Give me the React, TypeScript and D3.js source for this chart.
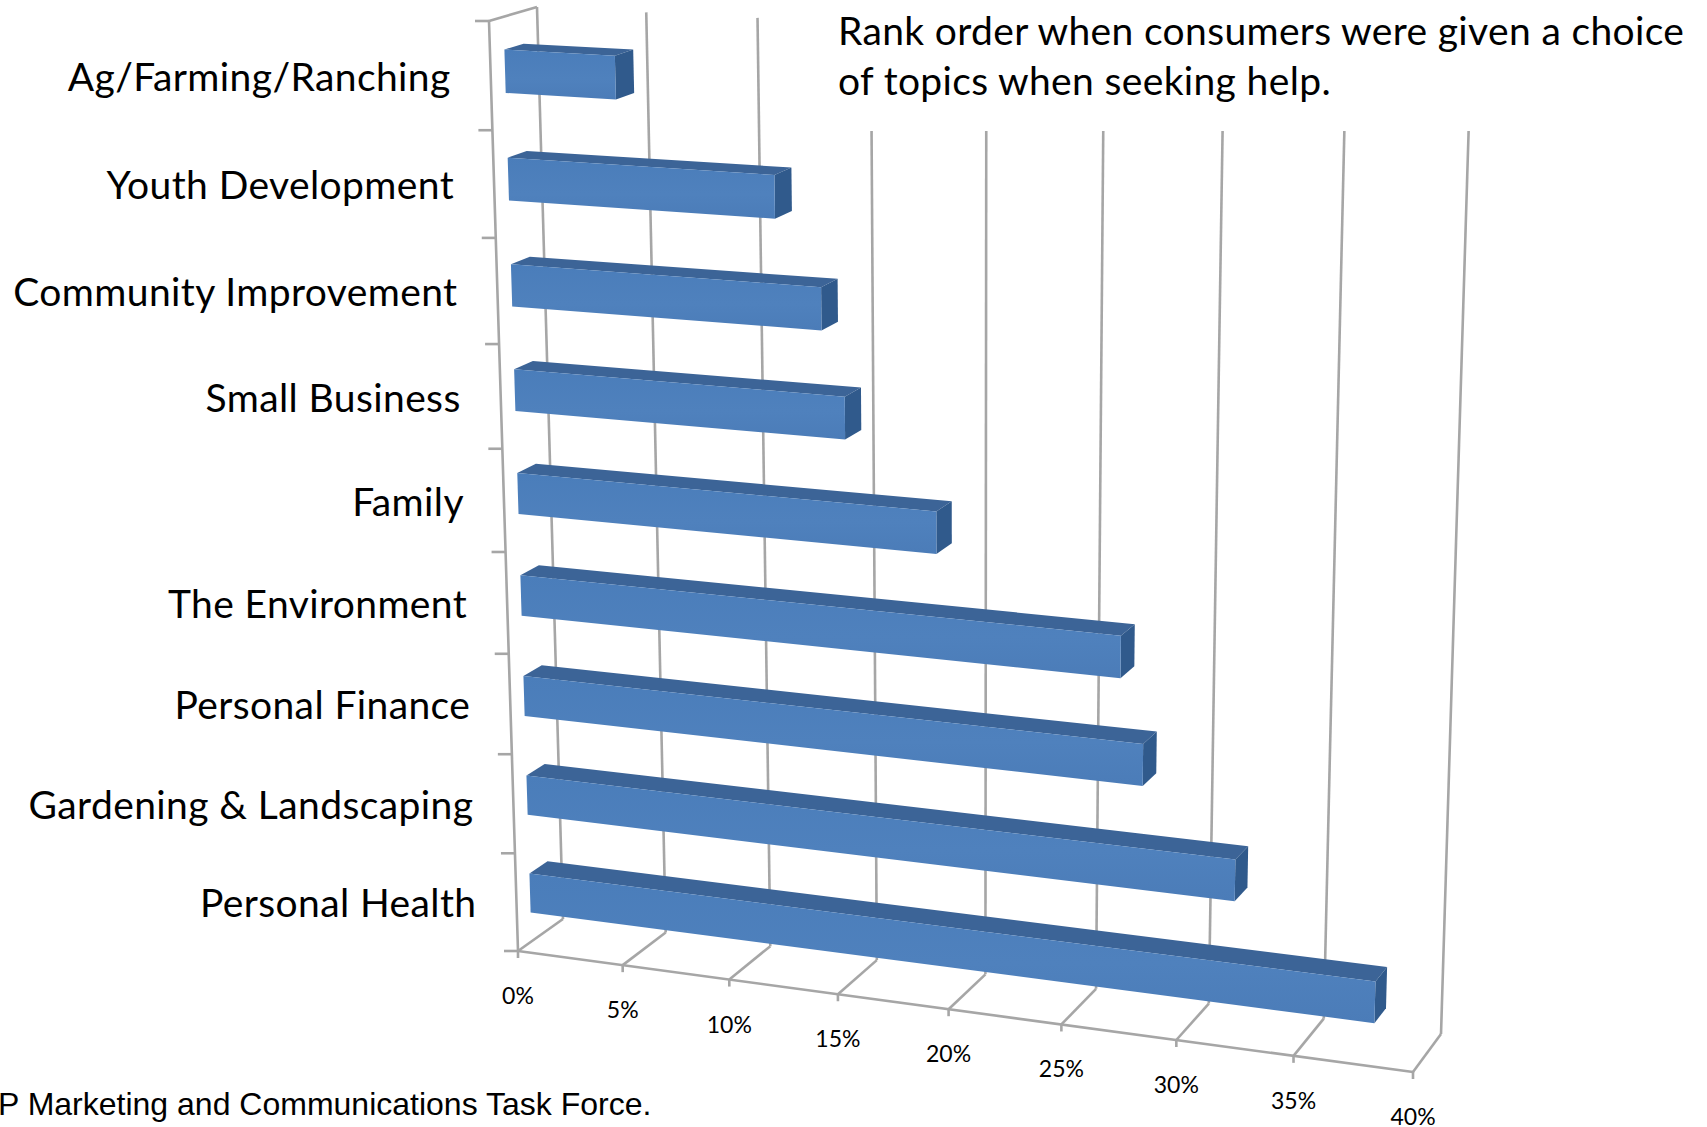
import React from "react";
import * as d3 from "d3";

const categories = [
  "Personal Health",
  "Gardening & Landscaping",
  "Personal Finance",
  "The Environment",
  "Family",
  "Small Business",
  "Community Improvement",
  "Youth Development",
  "Ag/Farming/Ranching",
];
const shares = [38, 32, 28, 27, 19, 15, 14, 12, 5];
const xTicks = [0, 5, 10, 15, 20, 25, 30, 35, 40];
const titleLines = [
  "Rank order when consumers were given a choice",
  "of topics when seeking help.",
];
const footer = "P Marketing and Communications Task Force.";

const W = 1707;
const H = 1127;
type Pt = [number, number];

// Perspective scale: value -> fraction along the horizontal axis
const rawX = (v: number) => (20.75 * v) / (1 - 0.00182 * v);
const px = d3.scaleLinear().domain([0, rawX(40)]).range([0, 1]);
const p = (v: number) => px(rawX(v));
// Perspective scale: category slot -> fraction up the vertical axis
const rawY = (h: number) => (97.06 * h) / (1 - 0.00674 * h);
const py = d3.scaleLinear().domain([0, rawY(9)]).range([0, 1]);
const q = (h: number) => py(rawY(h));

const lerp = (a: Pt, b: Pt, t: number): Pt => [
  a[0] + (b[0] - a[0]) * t,
  a[1] + (b[1] - a[1]) * t,
];
const edge = (a: Pt, b: Pt) => (v: number) => lerp(a, b, p(v));
const floorFront = edge([518, 951], [1413, 1072]);
const floorBack = edge([563, 919], [1441, 1034]);
const topFront = edge([489, 21], [1441, 73]);
const topBack = edge([537, 7], [1471, 53]);

const pt = (v: number, h: number, d: number): Pt =>
  lerp(
    lerp(floorFront(v), floorBack(v), d),
    lerp(topFront(v), topBack(v), d),
    q(h),
  );

const line = d3.line<Pt>();
const closed = (pts: Pt[]) => line(pts) + "Z";

const GRID = "#a6a6a6";
const FRONT = "#4f81bd";
const TOP = "#3c6497";
const SIDE = "#305a8c";
const LABEL_FONT = "Lato, 'Open Sans', sans-serif";

const H0 = 0.3;
const H1 = 0.7;
const D0 = 0.3;
const D1 = 0.7;

export default function App() {
  const slots = d3.range(categories.length + 1);
  return (
    <svg
      width={W}
      height={H}
      viewBox={`0 0 ${W} ${H}`}
      style={{ position: "absolute", left: 0, top: 0, background: "#fff" }}
    >
      <defs>
        <linearGradient id="frontGrad" x1="0" y1="0" x2="0" y2="1">
          <stop offset="0" stopColor="#4a7dba" />
          <stop offset="0.6" stopColor={FRONT} />
          <stop offset="1" stopColor="#4b7cb8" />
        </linearGradient>
      </defs>
      <g fill="none" stroke={GRID} strokeWidth={2.6}>
        {xTicks.map((v) => (
          <path key={"w" + v} d={line([floorBack(v), topBack(v)])!} />
        ))}
      </g>
      {/* white text box hiding the upper part of the wall */}
      <rect x={835} y={0} width={W - 835} height={131} fill="#fff" />
      <g fill="none" stroke={GRID} strokeWidth={2.6}>
        {xTicks.map((v) => (
          <path key={"f" + v} d={line([floorFront(v), floorBack(v)])!} />
        ))}
        <path d={line([floorFront(0), floorFront(40)])!} />
        <path d={line([topFront(0), topBack(0)])!} />
        <path d={line([floorFront(0), topFront(0)])!} />
        {xTicks.map((v) => {
          const a = floorFront(v);
          return <path key={"t" + v} d={line([a, [a[0], a[1] + 7]])!} />;
        })}
        {slots.map((h) => {
          const a = pt(0, h, 0);
          return <path key={"c" + h} d={line([[a[0] - 14, a[1]], a])!} />;
        })}
      </g>
      {shares.map((v, i) => {
        const h0 = i + H0;
        const h1 = i + H1;
        return (
          <g key={categories[i]}>
            <path
              d={closed([pt(0, h1, D0), pt(0, h1, D1), pt(v, h1, D1), pt(v, h1, D0)])}
              fill={TOP}
            />
            <path
              d={closed([pt(v, h0, D0), pt(v, h1, D0), pt(v, h1, D1), pt(v, h0, D1)])}
              fill={SIDE}
            />
            <path
              d={closed([pt(0, h0, D0), pt(0, h1, D0), pt(v, h1, D0), pt(v, h0, D0)])}
              fill="url(#frontGrad)"
            />
          </g>
        );
      })}
      <g fontFamily={LABEL_FONT} fontSize={39} letterSpacing={0.4} fill="#000" textAnchor="end">
        {categories.map((c, i) => {
          const a = pt(0, i + 0.5, 0);
          return (
            <text key={c} x={a[0] - 40} y={a[1] + 15}>
              {c}
            </text>
          );
        })}
      </g>
      <g fontFamily={LABEL_FONT} fontSize={23} fill="#000" textAnchor="middle">
        {xTicks.map((v) => {
          const a = floorFront(v);
          return (
            <text key={v} x={a[0]} y={a[1] + 53}>
              {v}%
            </text>
          );
        })}
      </g>
      <g fontFamily={LABEL_FONT} fontSize={39} letterSpacing={0.35} fill="#000">
        {titleLines.map((t, i) => (
          <text key={t} x={838} y={45 + i * 50}>
            {t}
          </text>
        ))}
      </g>
      <text
        x={-2}
        y={1115}
        fontFamily="'Liberation Sans', Arial, sans-serif"
        fontSize={32}
        fill="#000"
      >
        {footer}
      </text>
    </svg>
  );
}
